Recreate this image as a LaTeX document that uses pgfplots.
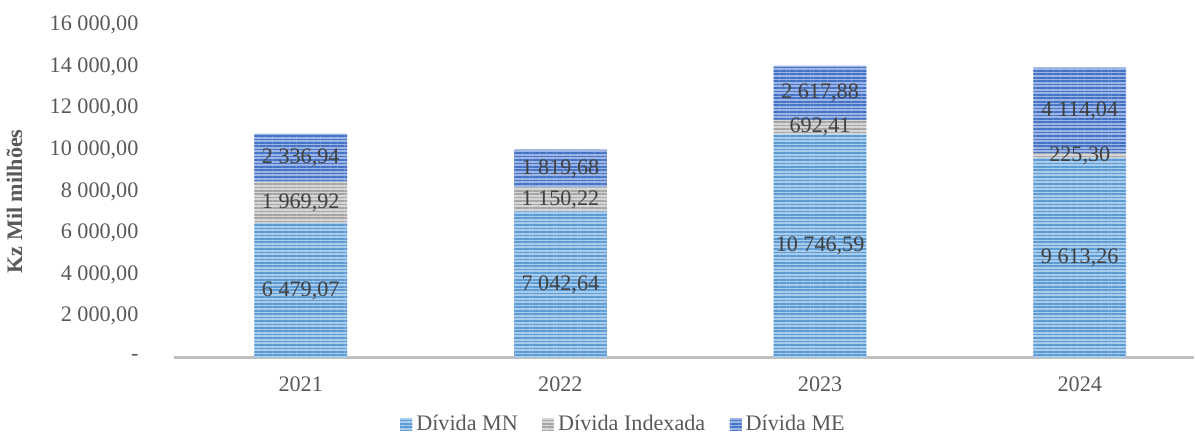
\documentclass[border=0pt]{standalone}
\usepackage{fontspec}
\setmainfont{Liberation Serif}
\usepackage{pgfplots}
\pgfplotsset{compat=1.18}
\usetikzlibrary{patterns.meta}
\definecolor{mnlight}{HTML}{A9CBEC}
\definecolor{mndark}{HTML}{5B9BD5}
\definecolor{ixlight}{HTML}{D6D6D6}
\definecolor{ixdark}{HTML}{A5A5A5}
\definecolor{melight}{HTML}{9DB5E4}
\definecolor{medark}{HTML}{4472C4}
\definecolor{ticktext}{HTML}{595959}
\definecolor{labeltext}{HTML}{404040}
\definecolor{axisgray}{HTML}{BFBFBF}
\begin{document}
\begin{tikzpicture}
\begin{axis}[
    width=506pt, height=165pt,
    scale only axis,
    ybar stacked,
    bar width=46pt,
    xmin=-0.489, xmax=3.438,
    ymin=0, ymax=16000,
    scaled y ticks=false,
    xtick={0,1,2,3},
    xticklabels={2021,2022,2023,2024},
    ytick={0,2000,4000,6000,8000,10000,12000,14000,16000},
    yticklabels={-\hspace{6pt},{2 000,00},{4 000,00},{6 000,00},{8 000,00},{10 000,00},{12 000,00},{14 000,00},{16 000,00}},
    axis lines*=left,
    y axis line style={draw=none},
    x axis line style={draw=axisgray, line width=1.5pt},
    major tick length=0pt,
    tick label style={font=\fontsize{11}{13}\selectfont, text=ticktext},
    yticklabel style={xshift=-14pt},
    xticklabel style={yshift=-6pt},
    ylabel={Kz Mil milhões},
    ylabel style={at={([xshift=-79pt]rel axis cs:0,0.47)}, anchor=center,
        font=\fontsize{11}{13}\selectfont\bfseries, text=ticktext},
    point meta=rawy,
    nodes near coords={\pgfmathprintnumber[fixed,fixed zerofill,precision=2,use comma,1000 sep={\ },assume math mode=true]{\pgfplotspointmeta}},
    every node near coord/.append style={font=\fontsize{11}{13}\selectfont, text=labeltext,
        anchor=center},
    legend style={at={(rel axis cs:0.442,-0.2)}, anchor=center, draw=none, fill=none,
        inner sep=0pt, legend columns=3, font=\fontsize{11}{13}\selectfont, text=ticktext,
        /tikz/every even column/.append style={column sep=10pt}},
    legend image code/.code={\path[#1, draw=none] (0pt,-3pt) rectangle (6pt,3pt);},
    after end axis/.code={\path (rel axis cs:0,1) ++(0,12.5pt);},
]
\addplot[fill=mnlight, draw=none,
    postaction={pattern={Lines[angle=0,distance=1.7pt,line width=0.8pt]}, pattern color=mndark}]
    coordinates {(0,6479.07) (1,7042.64) (2,10746.59) (3,9613.26)};
\addplot[fill=ixlight, draw=none,
    postaction={pattern={Lines[angle=0,distance=1.7pt,line width=0.8pt]}, pattern color=ixdark}]
    coordinates {(0,1969.92) (1,1150.22) (2,692.41) (3,225.30)};
\addplot[fill=melight, draw=none,
    postaction={pattern={Lines[angle=0,distance=1.7pt,line width=0.8pt]}, pattern color=medark}]
    coordinates {(0,2336.94) (1,1819.68) (2,2617.88) (3,4114.04)};
\legend{Dívida MN, Dívida Indexada, Dívida ME}
\end{axis}
\end{tikzpicture}
\end{document}
